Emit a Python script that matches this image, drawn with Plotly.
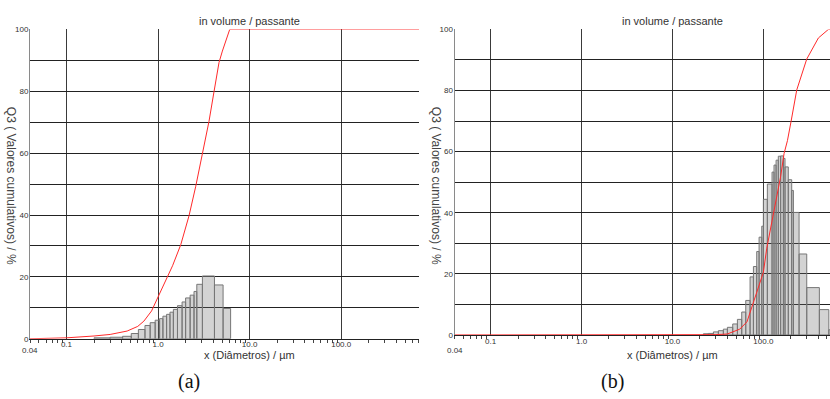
import math
import plotly.graph_objects as go

# ---------------- data ----------------
# (a) histogram class edges (µm) and bar heights
edges_a = [0.2, 0.3, 0.41, 0.51, 0.61, 0.72, 0.82, 0.93, 1.04, 1.13, 1.24, 1.35, 1.47,
           1.63, 1.83, 2.0, 2.24, 2.47, 2.65, 3.05, 4.13, 5.13, 6.2]
heights_a = [0.3, 0.5, 0.8, 1.7, 3.0, 4.3, 5.2, 6.0, 6.5, 7.3, 7.9, 8.6, 9.5, 10.7,
             11.9, 13.2, 14.1, 15.3, 17.6, 20.3, 17.4, 9.8]
# (a) cumulative curve
cum_x_a = [0.04, 0.1, 0.2, 0.3, 0.46, 0.6, 0.7, 0.85, 1.0, 1.2, 1.44, 1.77, 2.18, 2.58,
           3.05, 3.6, 4.08, 4.63, 5.04, 6.06, 720]
cum_y_a = [0, 0.3, 0.9, 1.4, 2.5, 4.0, 5.7, 9.0, 13.5, 18.5, 23.6, 30.4, 39.8, 49.3,
           59.8, 70.3, 79.8, 89.3, 93, 100, 100]

# (b) histogram class edges (µm) and bar heights
edges_b = [21.9, 24.8, 28.2, 32, 36.3, 40.2, 46, 51.8, 57.8, 64, 71.4, 77.7, 84.5, 89.7,
           96, 100, 110.6, 124.6, 131, 138, 146, 155, 166, 173, 188, 205, 214, 247, 300,
           413, 525, 650]
heights_b = [0.4, 0.5, 1.0, 1.4, 1.9, 2.5, 3.6, 5.1, 7.5, 11.3, 19, 22.4, 27.3, 32, 35.6,
             44.4, 49.4, 53.3, 55.6, 57.2, 58.5, 58.6, 57.8, 55, 50.8, 47.3, 40.1, 26.5,
             15.5, 8.3, 1.7]
# (b) cumulative curve
cum_x_b = [0.04, 20, 30, 40, 55, 66, 74.5, 84.6, 96, 100, 109, 124, 140, 155, 169, 184,
           202, 233, 300, 403, 519, 560]
cum_y_b = [0, 0, 0.1, 0.3, 1.9, 4.3, 9.1, 14.5, 18.8, 20.5, 28.4, 36.9, 44.4, 51.9, 59.4,
           63.6, 70, 80.2, 90.3, 97.2, 100, 100]

major_ticks = [0.1, 1, 10, 100]
major_text = ["0.1", "1.0", "10.0", "100.0"]
y_ticks = list(range(0, 101, 10))
y_text = [str(v) if v % 20 == 0 else "" for v in y_ticks]

# ---------------- layout geometry ----------------
W, H = 830, 399
FONT = "Liberation Sans, Arial, sans-serif"
TXT = "#333333"


def px(x):
    return x / W


def py(y):
    return 1 - y / H


minor_vals = [k * 10 ** e for e in range(-2, 3) for k in range(2, 10)]


def bar_poly(edges, heights):
    xs, ys = [], []
    for i, h in enumerate(heights):
        x0, x1 = edges[i], edges[i + 1]
        xs += [x0, x0, x1, x1, x0, None]
        ys += [0, h, h, 0, 0, None]
    return xs, ys


fig = go.Figure()

panels = [
    dict(xa="x", ya="y", edges=edges_a, heights=heights_a, cx=cum_x_a, cy=cum_y_a),
    dict(xa="x2", ya="y2", edges=edges_b, heights=heights_b, cx=cum_x_b, cy=cum_y_b),
]
for p in panels:
    bx, by = bar_poly(p["edges"], p["heights"])
    fig.add_trace(go.Scatter(x=bx, y=by, xaxis=p["xa"], yaxis=p["ya"], mode="lines",
                             fill="toself", fillcolor="rgba(110,110,110,0.30)",
                             line=dict(color="#777777", width=1), hoverinfo="skip",
                             showlegend=False))
    fig.add_trace(go.Scatter(x=p["cx"], y=p["cy"], xaxis=p["xa"], yaxis=p["ya"],
                             mode="lines", line=dict(color="#ff2a2a", width=1),
                             cliponaxis=False, showlegend=False))

left_range = [math.log10(0.04), 2.849]
right_range = [math.log10(0.04), 2.733]
dom_a = [px(30), px(419)]
dom_b = [px(454.5), 1.0]
ydom_a = [py(342.5), py(26)]
ydom_b = [py(338.6), py(26)]


def xaxis_bottom(rng, dom, anchor):
    return dict(type="log", range=rng, domain=dom, anchor=anchor,
                tickvals=major_ticks, ticktext=major_text, ticks="",
                ticklabelstandoff=-2, layer="below traces",
                tickfont=dict(size=8, color=TXT, family=FONT),
                showgrid=True, gridcolor="#3a3a3a", gridwidth=1,
                showline=True, linecolor="#222222", linewidth=1, zeroline=False,
                minor=dict(tickvals=minor_vals, ticks="outside", ticklen=3,
                           tickcolor="#444444", showgrid=False))


def xaxis_top(rng, dom, anchor, over):
    return dict(type="log", range=rng, domain=dom, anchor=anchor, overlaying=over,
                side="top", tickvals=major_ticks, ticks="", showticklabels=False,
                layer="below traces",
                showgrid=False, showline=True, linecolor="#222222", linewidth=1,
                zeroline=False,
                minor=dict(tickvals=minor_vals, ticks="outside", ticklen=3,
                           tickcolor="#444444", showgrid=False))


def yaxis(dom, anchor):
    return dict(range=[0, 100], domain=dom, anchor=anchor, tickvals=y_ticks,
                ticktext=y_text, ticks="", ticklabelstandoff=-1,
                tickfont=dict(size=8, color=TXT, family=FONT),
                showgrid=True, gridcolor="#222222", gridwidth=1,
                showline=True, linecolor="#8a8a8a", linewidth=1, zeroline=False)


fig.update_layout(
    width=W, height=H, margin=dict(l=0, r=0, t=0, b=0),
    paper_bgcolor="white", plot_bgcolor="white",
    xaxis=xaxis_bottom(left_range, dom_a, "y"),
    yaxis=yaxis(ydom_a, "x"),
    xaxis2=xaxis_bottom(right_range, dom_b, "y2"),
    yaxis2=yaxis(ydom_b, "x2"),
    xaxis3=xaxis_top(left_range, dom_a, "y", "x"),
    xaxis4=xaxis_top(right_range, dom_b, "y2", "x2"),
)

ann = []
for xref, xcap, cap, xq in [("x", 189, "(a)", 11), ("x2", 612, "(b)", 436)]:
    ann.append(dict(text="in volume / passante", xref=xref, x=1, yref="paper", y=py(17),
                    showarrow=False, font=dict(size=11, color=TXT, family=FONT),
                    xanchor="center", yanchor="middle"))
    ann.append(dict(text="x (Diâmetros) / µm", xref=xref, x=1, yref="paper", y=py(359),
                    showarrow=False, font=dict(size=11, color=TXT, family=FONT),
                    xanchor="center", yanchor="middle"))
    ann.append(dict(text="0.04", xref=xref, x=math.log10(0.04), yref="paper", y=py(354),
                    showarrow=False, font=dict(size=8, color=TXT, family=FONT),
                    xanchor="center", yanchor="middle"))
    ann.append(dict(text=cap, xref="paper", x=px(xcap), yref="paper", y=py(386),
                    showarrow=False,
                    font=dict(size=20, color="#111111",
                              family="Liberation Serif, Times New Roman, serif"),
                    xanchor="center", yanchor="middle"))
    ann.append(dict(text="Q3 ( Valores cumulativos) / %", xref="paper", x=px(xq),
                    yref="paper", y=py(186), textangle=90, showarrow=False,
                    font=dict(size=12, color="#444444", family=FONT),
                    xanchor="center", yanchor="middle"))
fig.update_layout(annotations=ann)

fig.write_html("out.html")
